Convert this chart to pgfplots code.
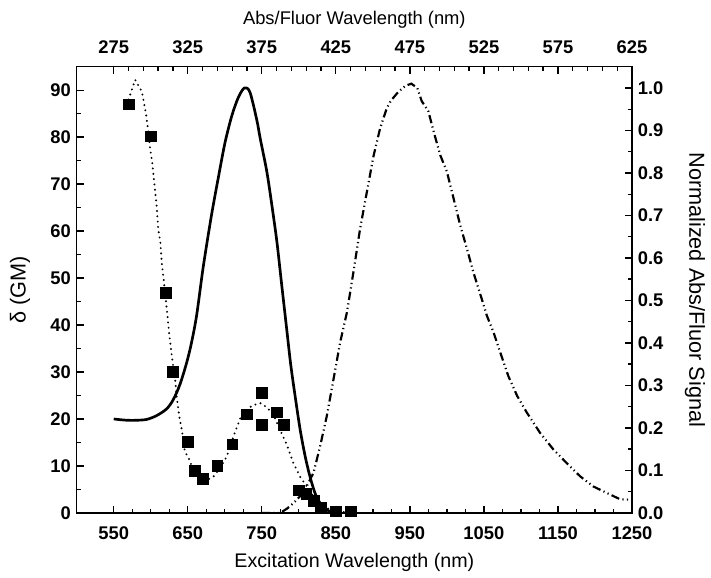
\documentclass[border=0pt]{standalone}
\usepackage{fontspec}
\setmainfont{Liberation Sans}
\usepackage{pgfplots}
\pgfplotsset{compat=1.18}

\pgfplotsset{
  frame/.style={
    scale only axis, width=333pt, height=267.6pt,
    axis line style={line width=0.9pt},
    tick style={line width=0.8pt, black},
    tick align=inside,
    major tick length=4.4pt, minor tick length=2.5pt,
    /pgf/number format/assume math mode=true,
    /pgf/number format/1000 sep={},
    tick label style={font=\bfseries\fontsize{11}{13}\selectfont},
  }
}

\begin{document}
\begin{tikzpicture}
% 2PA cross section, bottom/left axes
\begin{axis}[frame, name=main,
  xmin=500, xmax=1250, ymin=0, ymax=95,
  xtick={550,650,...,1250}, minor x tick num=3,
  ytick={0,10,...,90}, minor y tick num=1,
  xtick pos=left, ytick pos=left,
  xticklabel style={yshift=-4.5pt},
  xlabel={Excitation Wavelength (nm)},
  ylabel={δ (GM)},
  xlabel style={font=\fontsize{11.8}{14}\selectfont, at={(axis description cs:0.5,-0.112)},anchor=center},
  ylabel style={font=\fontsize{13}{15}\selectfont, at={(axis description cs:-0.102,0.5)},anchor=center},
]
\addplot[black, line width=1.3pt, line cap=round, dash pattern=on 0pt off 3.2pt] coordinates {
(570,88) (579,92.2) (588,89.7) (593.6,85) (596,82) (599,77.8) (602,74.6) (605,70)
(608,65.3) (610,60.7) (613,57.6) (615,53.1) (618.4,48.3) (621.6,43.6) (625,38)
(629.7,31.9) (633,28.4) (635,24.8) (638.6,20.5) (642,17.7) (646,13.1) (651,11.7)
(657.6,9.2) (666.6,7.4) (675.7,7.0) (684.6,7.7) (693.6,9.5) (702.7,12) (714,17.3)
(723,20.9) (736.5,22.8) (747.7,23.4) (756.7,22.5) (765.7,20.9) (774.7,17.7)
(783.8,14.5) (792.7,10.6) (801.8,7.7) (810.8,5.6) (819.8,3.5) (828.8,2.1)
(837.8,1.0) (851,0.3) (870,0.1)};
\addplot[only marks, mark=square*, mark size=3.2pt, black] coordinates {
(570,87) (600,80.2) (620,46.8) (630,30) (650,15.2) (660,9) (670,7.3) (690,10)
(710,14.6) (730,21) (750,25.6) (750,18.8) (770,21.4) (780,18.7) (800,4.8)
(810,4) (820,2.6) (830,1.1) (850,0.3) (870,0.3)};
\end{axis}
% absorption and fluorescence, top/right axes
\begin{axis}[frame,
  xmin=250, xmax=625, ymin=0, ymax=1.05,
  xtick={275,325,...,625}, minor x tick num=4,
  ytick={0,0.1,...,1.0}, minor y tick num=1,
  xtick pos=right, ytick pos=right,
  xticklabel pos=right, yticklabel pos=right,
  xticklabel style={yshift=4pt},
  yticklabel style={/pgf/number format/.cd,fixed,fixed zerofill,precision=1},
  xlabel={Abs/Fluor Wavelength (nm)},
  ylabel={Normalized Abs/Fluor Signal},
  xlabel style={font=\fontsize{11}{13}\selectfont, at={(axis description cs:0.5,1.106)},anchor=center},
  ylabel style={font=\fontsize{13}{15}\selectfont, at={(axis description cs:1.1135,0.5)},anchor=center,rotate=180},
]
\addplot[black, line width=1.6pt, smooth] coordinates {
(275,0.221) (283.8,0.218) (290.5,0.218) (297.3,0.22) (304,0.229) (310.8,0.245)
(315.3,0.267) (319.8,0.303) (324.3,0.354) (327.5,0.40) (331,0.465) (335.5,0.58)
(341,0.70) (345.7,0.79) (350.2,0.872) (354.8,0.935) (359.2,0.978) (363.3,1.0)
(367,0.99) (371.6,0.925) (374,0.88) (378.4,0.803) (381.8,0.724) (385.2,0.638)
(388.5,0.535) (391.9,0.43) (394.5,0.35) (397.5,0.275) (400.9,0.196) (404.3,0.133)
(407.5,0.086) (411,0.046) (414.4,0.023) (418.9,0.007) (425,0)};
\addplot[black, line width=1.3pt, dash pattern=on 5pt off 2pt on 0.7pt off 2pt on 0.7pt off 2pt] coordinates {
(375,0) (387.5,0) (392,0.01) (396.4,0.023) (403,0.047) (409.9,0.094) (414.4,0.157)
(418.9,0.228) (423.4,0.314) (427.9,0.401) (432.5,0.472) (436.9,0.567) (441.4,0.669)
(446,0.756) (450.4,0.839) (454.9,0.905) (459.5,0.953) (462.2,0.97) (467,0.99)
(472,1.005) (476,1.01) (480,1.0) (483,0.969) (487.5,0.945) (491,0.898) (495.5,0.842)
(500,0.803) (504.5,0.74) (509,0.677) (513.5,0.622) (518,0.565) (523.5,0.504)
(527,0.464) (531.5,0.425) (536,0.378) (541.5,0.322) (547.5,0.275) (554,0.236)
(563,0.188) (572,0.149) (581,0.117) (590,0.086) (599,0.062) (608,0.047)
(617,0.032) (624,0.031)};
\end{axis}
\useasboundingbox ([xshift=-46pt,yshift=-38.4pt]main.south west) rectangle ([xshift=47.4pt,yshift=40pt]main.north east);
\end{tikzpicture}
\end{document}
